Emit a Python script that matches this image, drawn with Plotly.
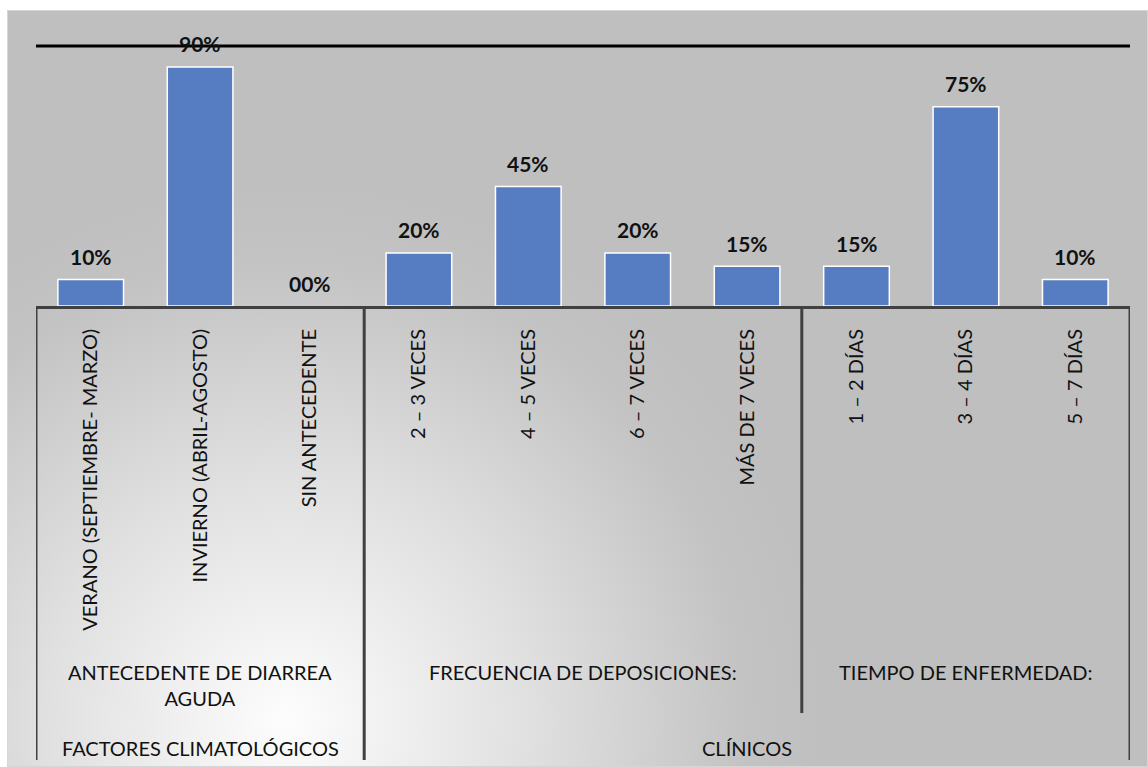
import base64
import plotly.graph_objects as go

# ---- data ----
categories = [
    "VERANO (SEPTIEMBRE- MARZO)",
    "INVIERNO (ABRIL-AGOSTO)",
    "SIN ANTECEDENTE",
    "2 – 3 VECES",
    "4 – 5 VECES",
    "6 – 7 VECES",
    "MÁS DE 7 VECES",
    "1 – 2 DÍAS",
    "3 – 4 DÍAS",
    "5 – 7 DÍAS",
]
values = [10, 90, 0, 20, 45, 20, 15, 15, 75, 10]
value_labels = ["10%", "90%", "00%", "20%", "45%", "20%", "15%", "15%", "75%", "10%"]

level1_labels = ["ANTECEDENTE DE DIARREA<br>AGUDA", "FRECUENCIA DE DEPOSICIONES:", "TIEMPO DE ENFERMEDAD:"]
level1_spans = [(0, 2), (3, 6), (7, 9)]
level2_labels = ["FACTORES CLIMATOLÓGICOS", "CLÍNICOS"]
level2_spans = [(0, 2), (3, 9)]

FONT = "Lato"
W, H = 1148, 767
L, R, T, B = 36, 18, 46, 461  # plot area: x 36..1130, y 46..306
PH = H - T - B

def py(pixel_y):
    return (H - B - pixel_y) / PH

def px(pixel_x):
    return (pixel_x - L) / (W - L - R)

# background gradient as svg image
svg = """<svg xmlns='http://www.w3.org/2000/svg' width='1141' height='757' viewBox='0 0 1141 757'>
<defs><radialGradient id='g' gradientUnits='userSpaceOnUse' cx='280' cy='710' r='540'>
<stop offset='0' stop-color='#fdfdfd'/>
<stop offset='0.45' stop-color='#e0e0e0'/>
<stop offset='0.85' stop-color='#c3c3c3'/>
<stop offset='1' stop-color='#bfbfbf'/>
</radialGradient></defs>
<rect x='0' y='0' width='1141' height='757' fill='url(#g)' stroke='#d6d6d6' stroke-width='2'/>
</svg>"""
src = "data:image/svg+xml;base64," + base64.b64encode(svg.encode()).decode()

fig = go.Figure()
fig.add_trace(go.Bar(
    x=categories, y=values,
    marker=dict(color="#567CC2",
                line=dict(color="white", width=[1.5 if v > 0 else 0 for v in values])),
    width=0.6, hoverinfo="skip",
))

annotations = []
for c, v, t in zip(categories, values, value_labels):
    annotations.append(dict(x=c, y=v, xref="x", yref="y", text="<b>%s</b>" % t,
                            showarrow=False, yanchor="middle", yshift=23,
                            font=dict(family=FONT, size=21, color="#111111")))
for lab, (a, b) in zip(level1_labels, level1_spans):
    yy = py(685) if "<br>" in lab else py(672)
    annotations.append(dict(x=(a + b) / 2, y=yy, xref="x", yref="paper", text=lab,
                            showarrow=False, yanchor="middle",
                            font=dict(family=FONT, size=20, color="#111111")))
for lab, (a, b) in zip(level2_labels, level2_spans):
    annotations.append(dict(x=(a + b) / 2, y=py(748), xref="x", yref="paper", text=lab,
                            showarrow=False, yanchor="middle",
                            font=dict(family=FONT, size=20, color="#111111")))

shapes = []
# top black line
shapes.append(dict(type="line", xref="paper", yref="paper", x0=0, x1=1, y0=1, y1=1,
                   line=dict(color="black", width=3)))
# separators
for xs, ybot in [(-0.5, 760), (2.5, 760), (6.5, 713), (9.5, 760)]:
    shapes.append(dict(type="line", xref="x", yref="paper", x0=xs, x1=xs, y0=py(306), y1=py(ybot),
                       line=dict(color="#404040", width=3)))

fig.update_layout(
    width=W, height=H,
    margin=dict(l=L, r=R, t=T, b=B),
    paper_bgcolor="white", plot_bgcolor="rgba(0,0,0,0)",
    showlegend=False,
    bargap=0.4,
    xaxis=dict(type="category", categoryorder="array", categoryarray=categories,
               range=[-0.5, 9.5], showline=True, linecolor="#404040", linewidth=3,
               ticks="", tickangle=-90, ticklabelstandoff=12,
               tickfont=dict(family=FONT, size=20, color="#111111"),
               showgrid=False, zeroline=False, fixedrange=True),
    yaxis=dict(range=[0, 97.9], showticklabels=False, showgrid=False, zeroline=False,
               showline=False, fixedrange=True),
    annotations=annotations,
    shapes=shapes,
    images=[dict(source=src, xref="paper", yref="paper", x=px(7), y=py(10),
                 sizex=px(1148) - px(7), sizey=py(10) - py(767), sizing="stretch",
                 xanchor="left", yanchor="top", layer="below")],
)

fig.write_html("out.html", config={"displayModeBar": False})
